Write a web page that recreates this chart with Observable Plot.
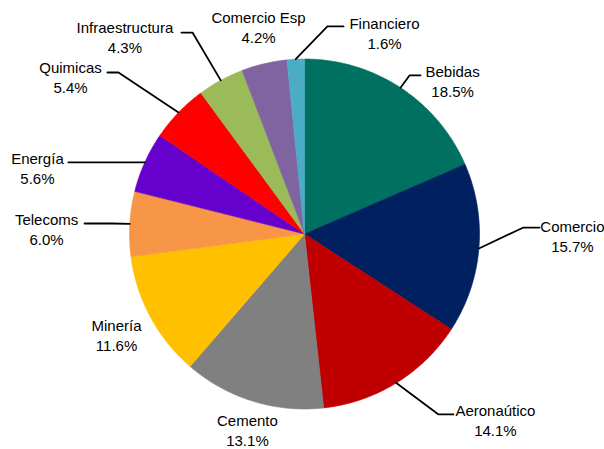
<!DOCTYPE html>
<html>
<head>
<meta charset="utf-8">
<script src="https://cdn.jsdelivr.net/npm/d3@7"></script>
<script src="https://cdn.jsdelivr.net/npm/@observablehq/plot@0.6"></script>
<style>
  html, body { margin: 0; padding: 0; background: #fff; }
  #chart { width: 604px; height: 449px; }
</style>
</head>
<body>
<div id="chart"></div>
<script>
// ---- data ----
const sectors = ["Bebidas", "Comercio", "Aeronaútico", "Cemento", "Minería", "Telecoms", "Energía", "Quimicas", "Infraestructura", "Comercio Esp", "Financiero"];
const shares  = [18.5, 15.7, 14.1, 13.1, 11.6, 6.0, 5.6, 5.4, 4.3, 4.2, 1.6];
const colors  = ["#007060", "#002060", "#C00000", "#808080", "#FFC000", "#F79646", "#6600CC", "#FF0000", "#9BBB59", "#8064A2", "#4BACC6"];

// ---- layout (label placement, in pie-radius units; pie centre = 0,0) ----
const labelX = [0.846, 1.531, 1.091, -0.326, -1.074, -1.474, -1.526, -1.337, -1.026, -0.263, 0.457];
const labelY = [0.874, -0.009, -1.063, -1.117, -0.574, 0.031, 0.38, 0.9, 1.126, 1.183, 1.151];
// leader lines: elbow x, end x, y (null = no leader)
const leaders = [
  [0.600, 0.663, 0.906],
  [1.251, 1.343, 0.037],
  [0.766, 0.851, -1.031],
  null,
  null,
  [-1.100, -1.257, 0.060],
  [-1.100, -1.349, 0.409],
  [-1.063, -1.126, 0.923],
  [-0.640, -0.703, 1.151],
  null,
  [0.131, 0.223, 1.186]
];

// ---- geometry from d3.pie ----
const arcs = d3.pie().sort(null).value(d => d)(shares);
const slicePts = [];
arcs.forEach((a, i) => {
  const name = sectors[i];
  slicePts.push({name, x: 0, y: 0});
  const n = Math.max(4, Math.ceil((a.endAngle - a.startAngle) / 0.01));
  for (let k = 0; k <= n; k++) {
    const t = a.startAngle + (a.endAngle - a.startAngle) * k / n;
    slicePts.push({name, x: Math.sin(t), y: Math.cos(t)});
  }
  slicePts.push({name, x: 0, y: 0});
});

const leaderPts = [];
arcs.forEach((a, i) => {
  const L = leaders[i];
  if (!L) return;
  const mid = (a.startAngle + a.endAngle) / 2;
  const name = sectors[i];
  leaderPts.push({name, x: Math.sin(mid), y: Math.cos(mid)});
  leaderPts.push({name, x: L[0], y: L[2]});
  leaderPts.push({name, x: L[1], y: L[2]});
});

const labels = sectors.map((s, i) => ({
  text: s + "\n" + shares[i].toFixed(1) + "%",
  x: labelX[i],
  y: labelY[i]
}));

const W = 604, H = 449, CX = 304, CY = 233.5, R = 175;

const chart = Plot.plot({
  width: W,
  height: H,
  margin: 0,
  style: {background: "#fff", fontFamily: "'Liberation Sans', Arial, sans-serif"},
  x: {domain: [-CX / R, (W - CX) / R], range: [0, W], axis: null},
  y: {domain: [-(H - CY) / R, CY / R], range: [H, 0], axis: null},
  color: {domain: sectors, range: colors},
  marks: [
    Plot.line(slicePts, {x: "x", y: "y", z: "name", fill: "name", stroke: "name", strokeWidth: 0.6, curve: "linear"}),
    Plot.line(leaderPts, {x: "x", y: "y", z: "name", stroke: "#000", strokeWidth: 1.8, curve: "linear"}),
    Plot.text(labels, {x: "x", y: "y", text: "text", fontSize: 15, lineHeight: 1.33, fill: "#000", textAnchor: "middle", lineAnchor: "middle"})
  ]
});
document.getElementById("chart").append(chart);
</script>
</body>
</html>
